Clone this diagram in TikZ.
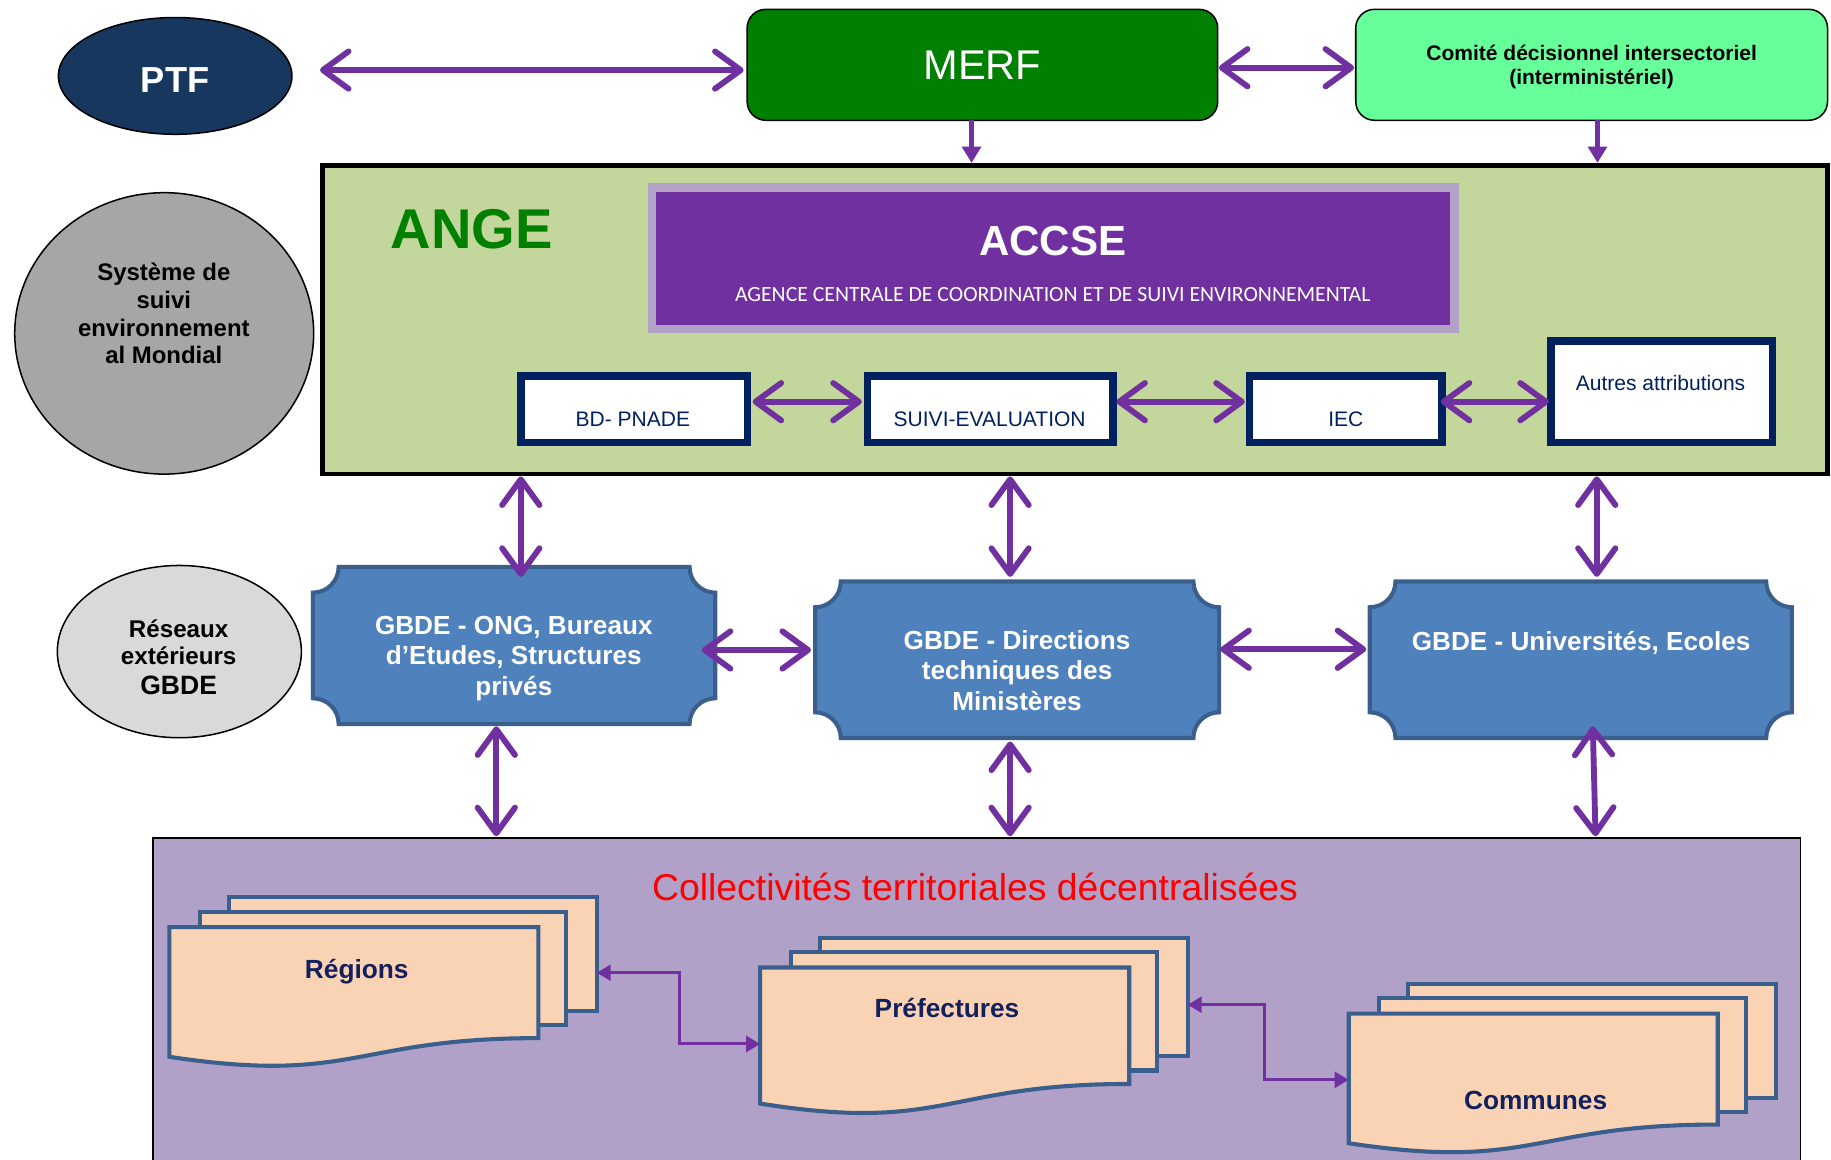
\documentclass[tikz,border=0pt]{standalone}
\usepackage{fontspec}
\setmainfont{Liberation Sans}
\newfontfamily\calib{Carlito}
\usetikzlibrary{arrows.meta,shapes.geometric}
\definecolor{purp}{HTML}{7030A0}
\definecolor{angefill}{HTML}{C3D69B}
\definecolor{collfill}{HTML}{B1A0C7}
\definecolor{gbdefill}{HTML}{4F81BD}
\definecolor{gbdeline}{HTML}{3A5F8C}
\definecolor{peach}{HTML}{FAD3B4}
\definecolor{navy}{HTML}{002060}
\definecolor{docnavy}{HTML}{14205C}
\definecolor{merfgreen}{HTML}{008000}
\definecolor{comgreen}{HTML}{66FF99}
\definecolor{accseline}{HTML}{B3A2C7}
\definecolor{ptfblue}{HTML}{17375E}
\definecolor{grayA}{HTML}{A6A6A6}
\definecolor{grayB}{HTML}{D9D9D9}
\tikzset{
  every node/.style={outer sep=0pt},
  bigarrow/.style={draw=purp, line width=5pt, {Straight Barb[length=22pt,width=32pt,round]}-{Straight Barb[length=22pt,width=32pt,round]}},
  downarrow/.style={draw=purp, line width=4.5pt, -{Triangle[length=14pt,width=16pt]}},
  elbowarrow/.style={draw=purp, line width=2.6pt, {Triangle[length=12pt,width=13.5pt]}-{Triangle[length=12pt,width=13.5pt]}},
  roundbox/.style={rectangle, rounded corners=16pt, draw=black, line width=1.3pt, inner sep=0pt},
  whitebox/.style={rectangle, draw=navy, fill=white, line width=6.5pt, inner sep=0pt},
  plaquestyle/.style={draw=gbdeline, fill=gbdefill, line width=3.5pt},
  docstyle/.style={draw=gbdeline, fill=peach, line width=3.5pt},
  gbdetext/.style={text=white, font=\bfseries\fontsize{22.4}{26.2}\selectfont, align=center, inner sep=0pt},
  doctext/.style={text=docnavy, font=\bfseries\fontsize{22.5}{27}\selectfont, anchor=base, inner sep=0pt},
  boxtext/.style={text=navy, font=\fontsize{18}{22}\selectfont, anchor=base, inner sep=0pt},
}
\newcommand\plaqueshape[4]{%
  \path[plaquestyle] (#1+22,#2) -- (#3-22,#2)
    .. controls (#3-22,#2+12.15) and (#3-12.15,#2+22) .. (#3,#2+22)
    -- (#3,#4-22)
    .. controls (#3-12.15,#4-22) and (#3-22,#4-12.15) .. (#3-22,#4)
    -- (#1+22,#4)
    .. controls (#1+22,#4-12.15) and (#1+12.15,#4-22) .. (#1,#4-22)
    -- (#1,#2+22)
    .. controls (#1+12.15,#2+22) and (#1+22,#2+12.15) .. (#1+22,#2) -- cycle;}
\newcommand\docstack[3]{%
  \path[docstyle] (#1+51,#2-25.5) rectangle (#1+366,#2+72*#3);
  \path[docstyle] (#1+26,#2-13) rectangle (#1+340,#2+84*#3);
  \path[docstyle] (#1,#2) -- (#1+316,#2) -- (#1+316,#2+95*#3)
     .. controls (#1+158,#2+95*#3) and (#1+158,#2+135*#3) .. (#1,#2+111*#3) -- cycle;}
\begin{document}
\begin{tikzpicture}[x=1pt,y=-1pt]
\useasboundingbox (0,0) rectangle (1568,993);
% Collectivites
\node[rectangle, draw=black, line width=1.2pt, fill=collfill, minimum width=1411pt, minimum height=292.4pt, inner sep=0pt] (coll) at (836.5,863.8) {};
\node[text=red, font=\fontsize{32}{36}\selectfont, anchor=base, inner sep=0pt] (collT) at (835,771.5) {Collectivités territoriales décentralisées};
\docstack{145}{794}{1}
\docstack{651}{828.5}{1.05}
\docstack{1155}{868}{1}
\node[doctext] (regT) at (305.5,837.7) {Régions};
\node[doctext] (prefT) at (811,871.1) {Préfectures};
\node[doctext] (comT) at (1315,949.8) {Communes};
\coordinate (regR) at (511,833);
\coordinate (prefL) at (651,894);
\coordinate (prefR) at (1017,860.4);
\coordinate (comL) at (1155,924.7);
\draw[elbowarrow] (regR) -- ++(71,0) |- (prefL);
\draw[elbowarrow] (prefR) -- ++(66,0) |- (comL);
% GBDE
\plaqueshape{268}{485.5}{612.5}{620}
\plaqueshape{698}{498}{1044}{632}
\plaqueshape{1173}{498}{1534.5}{632}
\node[rectangle, minimum width=344.5pt, minimum height=134.5pt, inner sep=0pt] (g1) at (440.25,552.75) {};
\node[rectangle, minimum width=346pt, minimum height=134pt, inner sep=0pt] (g2) at (871,565) {};
\node[rectangle, minimum width=361.5pt, minimum height=134pt, inner sep=0pt] (g3) at (1353.75,565) {};
\node[gbdetext] (g1T) at (440,563.9) {GBDE - ONG, Bureaux\\d’Etudes, Structures\\privés};
\node[gbdetext] (g2T) at (871,574.3) {GBDE - Directions\\techniques des\\Ministères};
\node[gbdetext, anchor=base] (g3T) at (1354,557.3) {GBDE - Universités, Ecoles};
% ellipses
\node[ellipse, draw=black, line width=1.3pt, fill=ptfblue, minimum width=200pt, minimum height=100pt, inner sep=0pt] (ptf) at (150,65) {};
\node[text=white, font=\bfseries\fontsize{31}{31}\selectfont, anchor=base, inner sep=0pt] (ptfT) at (150,79.1) {PTF};
\node[ellipse, draw=black, line width=1.3pt, fill=grayA, minimum width=256pt, minimum height=241pt, inner sep=0pt] (sys) at (140.6,285.5) {};
\node[font=\bfseries\fontsize{20.5}{23.8}\selectfont, align=center, inner sep=0pt] (sysT) at (140.3,268.5) {Système de\\suivi\\environnement\\al Mondial};
\node[ellipse, draw=black, line width=1.3pt, fill=grayB, minimum width=209pt, minimum height=147.5pt, inner sep=0pt] (res) at (153.6,558) {};
\node[font=\bfseries\fontsize{20.7}{22.9}\selectfont, align=center, inner sep=0pt] (resT) at (153,563) {Réseaux\\extérieurs\\[3.3pt]{\fontsize{22.7}{22.9}\selectfont GBDE}};
% top boxes
\node[roundbox, fill=merfgreen, minimum width=403pt, minimum height=95pt, text=white, font=\fontsize{35.6}{36}\selectfont] (merf) at (841.3,55.5) {MERF};
\node[roundbox, fill=comgreen, minimum width=404pt, minimum height=95pt] (com) at (1363,55.5) {};
\node[font=\bfseries\fontsize{18}{20.6}\selectfont, align=center, inner sep=0pt] (comT) at (1363,57) {Comité décisionnel intersectoriel\\(interministériel)};
% ANGE
\node[rectangle, draw=black, fill=angefill, line width=4pt, minimum width=1289pt, minimum height=264.5pt, inner sep=0pt] (ange) at (920.5,273.75) {};
\node[text=merfgreen, font=\bfseries\fontsize{48}{48}\selectfont, anchor=base, inner sep=0pt] (angeT) at (404,213.2) {ANGE};
\node[rectangle, draw=accseline, fill=purp, line width=7pt, minimum width=687pt, minimum height=121pt, inner sep=0pt] (accse) at (902,221) {};
\node[text=white, font=\bfseries\fontsize{36}{36}\selectfont, anchor=base, inner sep=0pt] (accseT) at (901.5,218.9) {ACCSE};
\node[text=white, font=\calib\fontsize{18.6}{20}\selectfont, anchor=base, inner sep=0pt] (accseS) at (901.5,258) {AGENCE CENTRALE DE COORDINATION ET DE SUIVI ENVIRONNEMENTAL};
\node[whitebox, minimum width=194pt, minimum height=57pt] (bd) at (543,350.5) {};
\node[whitebox, minimum width=210pt, minimum height=57pt] (suivi) at (848,350.5) {};
\node[whitebox, minimum width=165pt, minimum height=57pt] (iec) at (1152.5,350.5) {};
\node[whitebox, minimum width=190pt, minimum height=87pt] (aut) at (1423,335.5) {};
\node[boxtext] (bdT) at (542,365.4) {BD- PNADE};
\node[boxtext] (suiviT) at (847.5,365.4) {SUIVI-EVALUATION};
\node[boxtext] (iecT) at (1152.5,365.4) {IEC};
\node[boxtext] (autT) at (1422,334.4) {Autres attributions};
% arrows
\draw[bigarrow] ([shift={(24,-5)}]ptf.east) -- ([shift={(-3,4.5)}]merf.west);
\draw[bigarrow] ([shift={(1,2.5)}]merf.east) -- ([shift={(-1.4,2.5)}]com.west);
\coordinate (m1) at ([shift={(-9.3,0)}]merf.south);
\coordinate (c1) at ([shift={(5,0)}]com.south);
\draw[downarrow, shorten >=2pt] (m1) -- (m1 |- ange.north);
\draw[downarrow, shorten >=2pt] (c1) -- (c1 |- ange.north);
\draw[bigarrow] ([shift={(4.5,-6.5)}]bd.east) -- ([shift={(-5,-6.5)}]suivi.west);
\draw[bigarrow] ([shift={(3,-6.5)}]suivi.east) -- ([shift={(-4,-6.5)}]iec.west);
\draw[bigarrow] ([shift={(-1.2,-6.5)}]iec.east) -- ([shift={(-1.6,8.5)}]aut.west);
\coordinate (v1) at ([shift={(5.75,8.5)}]g1.north);
\coordinate (v2) at ([shift={(-6,-4)}]g2.north);
\coordinate (v3) at ([shift={(13.65,-4)}]g3.north);
\draw[bigarrow, shorten <=2pt] (v1 |- ange.south) -- (v1);
\draw[bigarrow, shorten <=2pt] (v2 |- ange.south) -- (v2);
\draw[bigarrow, shorten <=2pt] (v3 |- ange.south) -- (v3);
\coordinate (w1) at ([shift={(-15.25,2)}]g1.south);
\coordinate (w2) at ([shift={(-6,3)}]g2.south);
\coordinate (w3) at ([shift={(10.25,-10)}]g3.south);
\coordinate (w3b) at ([shift={(12.65,0)}]g3.south);
\draw[bigarrow, shorten >=1.5pt] (w1) -- (w1 |- coll.north);
\draw[bigarrow, shorten >=1.5pt] (w2) -- (w2 |- coll.north);
\draw[bigarrow, shorten >=1.5pt] (w3) -- (w3b |- coll.north);
\draw[bigarrow] ([shift={(-11.5,3.85)}]g1.east) -- ([shift={(-3.5,-8.4)}]g2.west);
\draw[bigarrow] ([shift={(1,-9)}]g2.east) -- ([shift={(-3,-9)}]g3.west);
\end{tikzpicture}
\end{document}
